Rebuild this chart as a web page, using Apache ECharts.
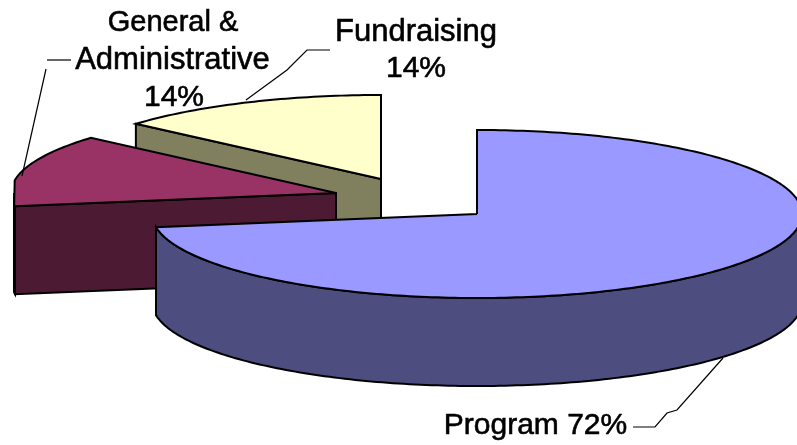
<!DOCTYPE html>
<html>
<head>
<meta charset="utf-8">
<style>html,body{margin:0;padding:0;background:#fff}#c{width:797px;height:445px}</style>
<script src="https://cdn.jsdelivr.net/npm/echarts@6/dist/echarts.min.js"></script>
</head>
<body>
<div id="c"></div>
<script>
// ---- data ----
var categories = ['Program', 'General & Administrative', 'Fundraising'];
var values = [72.5, 13.9, 13.6];
var shownPercent = ['72%', '14%', '14%'];

// ---- styles and layout (not data) ----
var topColors = ['#9999ff', '#993366', '#ffffcc'];
var wallColors = ['#4d4d80', '#4d1a33', '#80805f'];
var apexes = [[477, 214], [336, 193], [381, 179]];
var RX = 325, RY = 84, DEPTH = 88, CLIP_LEFT = 14;
var labelLayout = [
  {lines: [{t: 'Program ' + shownPercent[0], x: 535.5, y: 426, s: 30}],
   leader: [[[633, 427], [655, 427], [667, 413], [677, 410], [723, 358]]]},
  {lines: [{t: 'General &', x: 173, y: 23, s: 29}, {t: 'Administrative', x: 172.5, y: 60, s: 31}, {t: shownPercent[1], x: 174, y: 98, s: 30}],
   leader: [[[71, 60], [47, 60]], [[46, 69], [22, 176]]]},
  {lines: [{t: 'Fundraising', x: 416, y: 32, s: 31}, {t: shownPercent[2], x: 416, y: 69, s: 30}],
   leader: [[[330, 50], [307, 50], [287, 70], [246, 100]]]}
];

var total = values.reduce(function (a, b) { return a + b; }, 0);

function rim(apex, deg, drop) {
  var r = deg * Math.PI / 180;
  return [Math.max(apex[0] + RX * Math.sin(r), CLIP_LEFT), apex[1] - RY * Math.cos(r) + (drop || 0)];
}
function arc(apex, a0, a1, drop) {
  var pts = [], n = Math.max(2, Math.ceil(Math.abs(a1 - a0)));
  for (var i = 0; i <= n; i++) pts.push(rim(apex, a0 + (a1 - a0) * i / n, drop));
  return pts;
}
function renderSlice(params, api) {
  var idx = params.dataIndex, start = 0;
  for (var i = 0; i < idx; i++) start += values[i];
  var a0 = start / total * 360;
  var a1 = a0 + api.value(0) / total * 360;
  var apex = apexes[idx], kids = [], z = (3 - idx) * 10;
  var low = [apex[0], apex[1] + DEPTH];
  var lineStyle = {fill: null, stroke: '#000', lineWidth: 2, lineJoin: 'miter'};

  function face(pts, color, zz) {
    kids.push({type: 'polygon', z2: zz, shape: {points: pts},
      style: {fill: color, stroke: '#000', lineWidth: 2, lineJoin: 'miter'}});
  }
  // cut faces that look towards the viewer
  if (Math.sin(a0 * Math.PI / 180) < -1e-6) {
    var p = rim(apex, a0), q = rim(apex, a0, DEPTH);
    face([apex, p, q, low], wallColors[idx], z);
  }
  if (Math.sin(a1 * Math.PI / 180) > 1e-6) {
    var p2 = rim(apex, a1), q2 = rim(apex, a1, DEPTH);
    face([apex, p2, q2, low], wallColors[idx], z);
  }
  // outer wall on the near half of the disc
  var w0 = Math.max(a0, 90), w1 = Math.min(a1, 270);
  if (w1 > w0) {
    face(arc(apex, w0, w1, 0).concat(arc(apex, w1, w0, DEPTH)), wallColors[idx], z + 1);
  }
  // top face: fill, then an outline that stops at the cropped left edge
  var rimPts = arc(apex, a0, a1, 0);
  kids.push({type: 'polygon', z2: z + 2, shape: {points: [apex].concat(rimPts)},
    style: {fill: topColors[idx], stroke: null}});
  var outline = [apex].concat(rimPts.filter(function (pt) { return pt[0] > CLIP_LEFT; })).concat([apex]);
  kids.push({type: 'polyline', z2: z + 3, shape: {points: outline}, style: lineStyle});

  // labels and leader lines
  var lab = labelLayout[idx];
  lab.lines.forEach(function (l) {
    kids.push({type: 'text', z2: 100, style: {text: l.t, x: l.x, y: l.y,
      font: l.s + 'px "Liberation Sans", Arial, sans-serif',
      fill: '#000', stroke: '#000', lineWidth: 0.6, align: 'center', verticalAlign: 'middle'}});
  });
  lab.leader.forEach(function (pts) {
    kids.push({type: 'polyline', z2: 90, shape: {points: pts},
      style: {fill: null, stroke: '#000', lineWidth: 1.2}});
  });
  return {type: 'group', children: kids};
}

var chart = echarts.init(document.getElementById('c'), null, {renderer: 'canvas'});
chart.setOption({
  animation: false,
  backgroundColor: '#ffffff',
  series: [{
    type: 'custom',
    coordinateSystem: 'none',
    silent: true,
    clip: false,
    renderItem: renderSlice,
    data: values.map(function (v, i) { return {name: categories[i], value: [v]}; })
  }]
});
</script>
</body>
</html>
